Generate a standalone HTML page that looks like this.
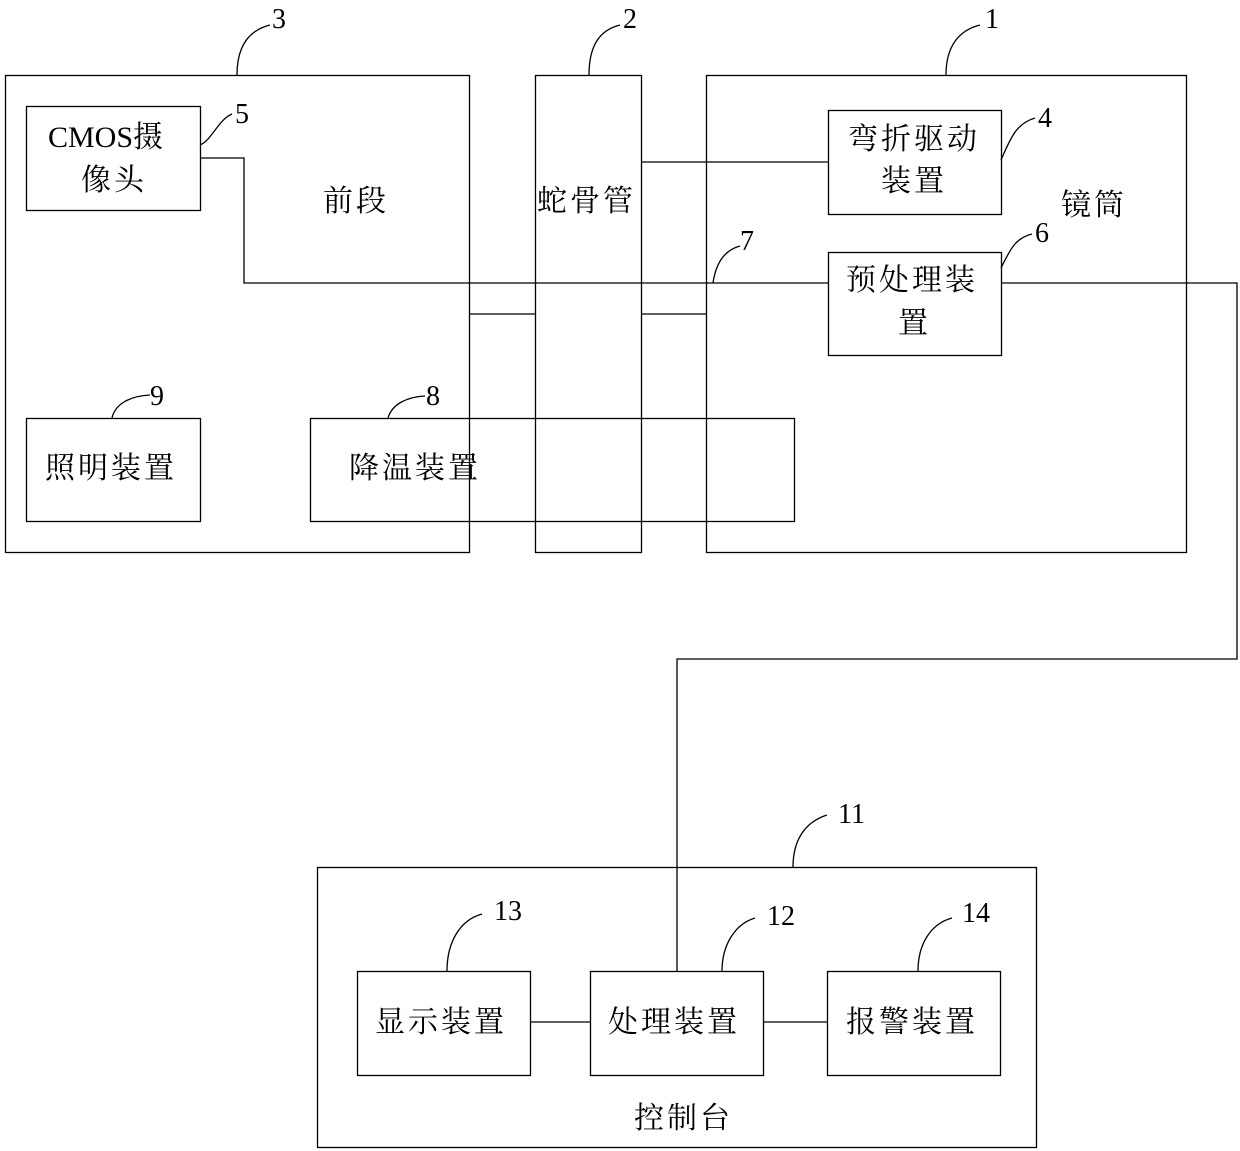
<!DOCTYPE html>
<html><head><meta charset="utf-8"><style>
html,body{margin:0;padding:0;background:#fff;}
svg{display:block;}
text{font-family:"Liberation Serif","Noto Serif CJK SC",serif;fill:#000;}
.c{font-size:30px;letter-spacing:3px;}
.n{font-size:28px;}
</style></head><body>
<svg width="1240" height="1151" viewBox="0 0 1240 1151" xmlns="http://www.w3.org/2000/svg">
<g fill="none" stroke="#000" stroke-width="1.3">
<rect x="5.5" y="75.5" width="464" height="477"/>
<rect x="535.5" y="75.5" width="106" height="477"/>
<rect x="706.5" y="75.5" width="480" height="477"/>
<rect x="26.5" y="106.5" width="174" height="104"/>
<rect x="828.5" y="110.5" width="173" height="104"/>
<rect x="828.5" y="252.5" width="173" height="103"/>
<rect x="26.5" y="418.5" width="174" height="103"/>
<rect x="310.5" y="418.5" width="484" height="103"/>
<rect x="317.5" y="867.5" width="719" height="280"/>
<rect x="357.5" y="971.5" width="173" height="104"/>
<rect x="590.5" y="971.5" width="173" height="104"/>
<rect x="827.5" y="971.5" width="173" height="104"/>
<polyline points="200,158 244,158 244,283 828,283"/>
<line x1="469" y1="314" x2="535" y2="314"/>
<line x1="641" y1="314" x2="706" y2="314"/>
<line x1="641" y1="162" x2="828" y2="162"/>
<polyline points="1001,283 1237,283 1237,659 677,659 677,971"/>
<line x1="530" y1="1022" x2="590" y2="1022"/>
<line x1="763" y1="1022" x2="827" y2="1022"/>
<path d="M237,75 C237,45 250,30 270,25"/>
<path d="M589,75 C589,45 600,30 620,25"/>
<path d="M946,75 C946,45 960,30 980,25"/>
<path d="M200,145 C212,140 218,120 232,114"/>
<path d="M1001,160 C1010,140 1015,124 1035,118"/>
<path d="M1001,268 C1010,250 1015,238 1032,234"/>
<path d="M713,283 C716,262 725,250 740,246"/>
<path d="M112,418 C115,404 130,396 150,395"/>
<path d="M388,418 C392,404 407,397 425,396"/>
<path d="M793,867 C793,840 805,822 827,815"/>
<path d="M447,971 C447,942 460,920 482,914"/>
<path d="M722,971 C722,945 735,924 755,918"/>
<path d="M918,971 C918,945 930,924 952,918"/>
</g>
<g class="n">
<text x="272" y="28">3</text>
<text x="623" y="28">2</text>
<text x="985" y="28">1</text>
<text x="235" y="123">5</text>
<text x="1038" y="127">4</text>
<text x="1035" y="242">6</text>
<text x="740" y="250">7</text>
<text x="150" y="405">9</text>
<text x="426" y="405">8</text>
<text x="838" y="823">11</text>
<text x="494" y="920">13</text>
<text x="767" y="925">12</text>
<text x="962" y="922">14</text>
</g>
<g class="c">
<text x="48" y="147" style="letter-spacing:0">CMOS摄</text>
<text x="81" y="190">像头</text>
<text x="323" y="211">前段</text>
<text x="537" y="211">蛇骨管</text>
<text x="848" y="149">弯折驱动</text>
<text x="881" y="191">装置</text>
<text x="1061" y="215">镜筒</text>
<text x="846" y="290">预处理装</text>
<text x="898" y="333">置</text>
<text x="45" y="478">照明装置</text>
<text x="349" y="478">降温装置</text>
<text x="375" y="1032">显示装置</text>
<text x="608" y="1032">处理装置</text>
<text x="846" y="1032">报警装置</text>
<text x="634" y="1128">控制台</text>
</g>
</svg>
</body></html>
